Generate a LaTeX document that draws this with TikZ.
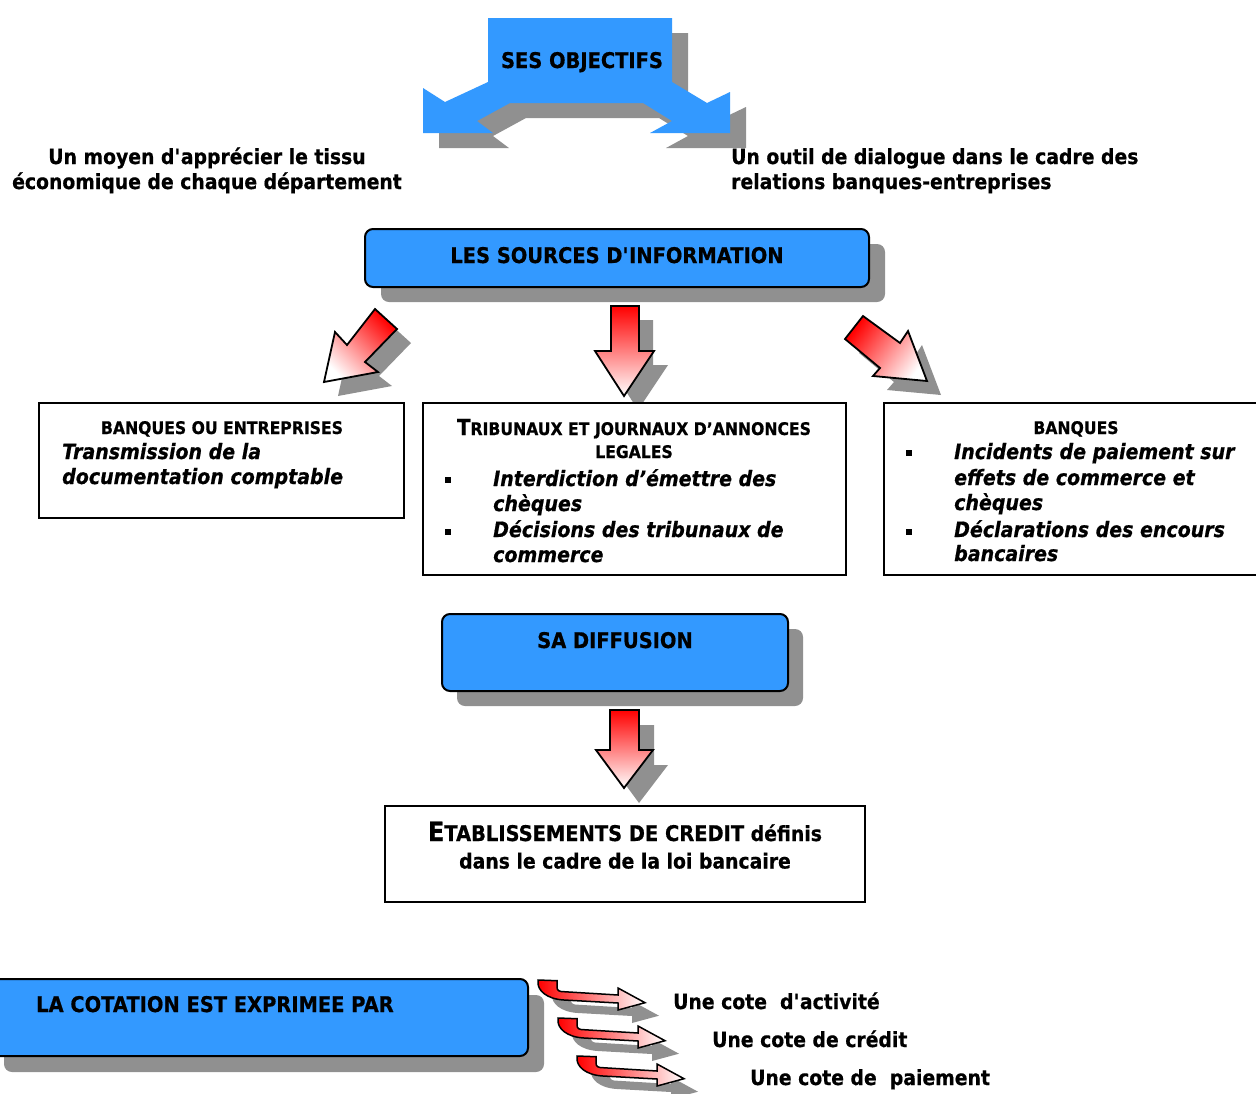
\documentclass[tikz,border=0pt]{standalone}
\usepackage{fontspec}
\setmainfont[FakeStretch=0.9, BoldFeatures={FakeBold=0.6}, BoldItalicFeatures={FakeBold=0.6}]{DejaVu Sans}
\definecolor{boxblue}{HTML}{3399FF}
\definecolor{shad}{HTML}{909090}
\newcommand\fBody{\fontsize{20.9}{25}\selectfont\bfseries}
\newcommand\fHead{\fontsize{21.6}{25}\selectfont\bfseries}
\newcommand\fSmall{\fontsize{17.4}{20}\selectfont\bfseries}
\newcommand\fBig{\fontsize{22}{25}\selectfont\bfseries}
\newcommand\fIt{\fontsize{21.1}{25}\selectfont\bfseries\itshape}
\begin{document}
\begin{tikzpicture}[x=1pt,y=-1pt,
  bd/.style={font=\fBody, inner sep=0pt},
  hd/.style={font=\fHead, inner sep=0pt},
  sm/.style={font=\fSmall, inner sep=0pt},
  it/.style={font=\fIt, inner sep=0pt},
  bluebox/.style={draw=black, line width=2pt, fill=boxblue, rounded corners=8pt, inner sep=0pt},
  shadbox/.style={fill=shad, rounded corners=8pt, inner sep=0pt},
  whitebox/.style={draw=black, line width=1.5pt, fill=white, inner sep=0pt},
  redarrow/.style={draw=black, line width=1.8pt, line join=miter},
  sq/.style={fill=black, inner sep=0pt, minimum size=6pt}]
\useasboundingbox (0,0) rectangle (1256,1093);

% ---------- SES OBJECTIFS split arrow
\begin{scope}[shift={(16,15)}]
\fill[shad] (488,18) -- (488,82) -- (445,102) -- (423,88) -- (423,133) -- (493,133) -- (477,121) -- (510,103) -- (643,103) -- (672,121) -- (650,133) -- (730,133) -- (730,92) -- (707,103) -- (672,82) -- (672,18) -- cycle;
\end{scope}
\fill[boxblue] (488,18) -- (488,82) -- (445,102) -- (423,88) -- (423,133) -- (493,133) -- (477,121) -- (510,103) -- (643,103) -- (672,121) -- (650,133) -- (730,133) -- (730,92) -- (707,103) -- (672,82) -- (672,18) -- cycle;
\node[hd, anchor=base] (obj) at (582,68) {SES OBJECTIFS};

\node[bd, anchor=base] (l1) at (207,164) {Un moyen d\textquotesingle apprécier le tissu};
\node[bd, anchor=base] (l2) at (207,189) {économique de chaque département};
\node[bd, anchor=base west] (r1) at (731,164) {Un outil de dialogue dans le cadre des};
\node[bd, anchor=base west] (r2) at (731,189) {relations banques-entreprises};

% ---------- LES SOURCES
\node[shadbox, minimum width=504pt, minimum height=58pt] (srcs) at (633,273) {};
\node[bluebox, minimum width=504pt, minimum height=58pt] (src) at (617,258) {};
\node[hd, anchor=base] (srct) at (617,263) {LES SOURCES D\textquotesingle INFORMATION};

% ---------- red arrows
\begin{scope}[shift={(14,14)}]
\fill[shad] (375,309) -- (397,329) -- (365,362) -- (378,372) -- (324,382) -- (335,332) -- (347,345) -- cycle;
\fill[shad] (611,306) -- (639,306) -- (639,351) -- (654,351) -- (624,396) -- (595,351) -- (611,351) -- cycle;
\fill[shad] (863,316) -- (845,339) -- (880,368) -- (873,376) -- (927,381) -- (908,331) -- (900,343) -- cycle;
\end{scope}
\path[redarrow, top color=red, bottom color=white, shading angle=-45] (375,309) -- (397,329) -- (365,362) -- (378,372) -- (324,382) -- (335,332) -- (347,345) -- cycle;
\path[redarrow, top color=red, bottom color=white] (611,306) -- (639,306) -- (639,351) -- (654,351) -- (624,396) -- (595,351) -- (611,351) -- cycle;
\path[redarrow, top color=red, bottom color=white, shading angle=54] (863,316) -- (845,339) -- (880,368) -- (873,376) -- (927,381) -- (908,331) -- (900,343) -- cycle;

% ---------- three source boxes
\node[whitebox, minimum width=365pt, minimum height=115pt] (ba) at (221.5,460.5) {};
\node[sm, anchor=base] (bat) at (222,434) {BANQUES OU ENTREPRISES};
\node[it, anchor=base west] (ba1) at (62,459) {Transmission de la};
\node[it, anchor=base west] (ba2) at (62,484) {documentation comptable};

\node[whitebox, minimum width=423pt, minimum height=172pt] (bb) at (634.5,489) {};
\node[sm, anchor=base] (bbt) at (634,435) {{\fBig T}RIBUNAUX ET JOURNAUX D’ANNONCES};
\node[sm, anchor=base] (bbt2) at (634,458) {LEGALES};
\node[sq] (bbs1) at (448,480) {};
\node[sq] (bbs2) at (448,532) {};
\node[it, anchor=base west] (bb1) at (493,486) {Interdiction d’émettre des};
\node[it, anchor=base west] (bb2) at (493,511) {chèques};
\node[it, anchor=base west] (bb3) at (493,537) {Décisions des tribunaux de};
\node[it, anchor=base west] (bb4) at (493,562) {commerce};

\node[whitebox, minimum width=378pt, minimum height=172pt] (bc) at (1073,489) {};
\node[sm, anchor=base] (bct) at (1076,434) {BANQUES};
\node[sq] (bcs1) at (909,453) {};
\node[sq] (bcs2) at (909,532) {};
\node[it, anchor=base west] (bc1) at (954,459) {Incidents de paiement sur};
\node[it, anchor=base west] (bc2) at (954,485) {effets de commerce et};
\node[it, anchor=base west] (bc3) at (954,510) {chèques};
\node[it, anchor=base west] (bc4) at (954,537) {Déclarations des encours};
\node[it, anchor=base west] (bc5) at (954,561) {bancaires};

% ---------- SA DIFFUSION
\node[shadbox, minimum width=346pt, minimum height=77pt] (difs) at (630,667.5) {};
\node[bluebox, minimum width=346pt, minimum height=77pt] (dif) at (615,652.5) {};
\node[hd, anchor=base] (dift) at (615,648) {SA DIFFUSION};

\begin{scope}[shift={(15,15)}]
\fill[shad] (610,710) -- (639,710) -- (639,750) -- (653,750) -- (624,788) -- (596,750) -- (610,750) -- cycle;
\end{scope}
\path[redarrow, top color=red, bottom color=white] (610,710) -- (639,710) -- (639,750) -- (653,750) -- (624,788) -- (596,750) -- (610,750) -- cycle;

% ---------- ETABLISSEMENTS
\node[whitebox, minimum width=480pt, minimum height=96pt] (etab) at (625,854) {};
\node[bd, anchor=base] (et1) at (625,841) {{\fontsize{26.5}{25}\selectfont E}{\fontsize{21.6}{25}\selectfont TABLISSEMENTS DE CREDIT} définis};
\node[bd, anchor=base] (et2) at (625,868.5) {dans le cadre de la loi bancaire};

% ---------- LA COTATION
\node[shadbox, minimum width=540pt, minimum height=77pt] (cots) at (274,1033.5) {};
\node[bluebox, minimum width=540pt, minimum height=77pt] (cot) at (258,1017.5) {};
\node[hd, anchor=base west] (cott) at (36,1012) {LA COTATION EST EXPRIMEE PAR};

\foreach \dx/\dy in {0/0, 20/38, 39/76} {
  \begin{scope}[shift={(538+14+\dx,980+13+\dy)}]
    \fill[shad] (0,0) -- (19,0.7) -- (19,7) .. controls (19,10.5) and (21,11.7) .. (26,11.7) -- (80,15) -- (80,8) -- (107,22.7) -- (80,30) -- (80,23) -- (26,20) .. controls (8,19) and (0,10) .. (0,3) -- cycle;
  \end{scope}
  \begin{scope}[shift={(538+\dx,980+\dy)}]
    \path[redarrow, line width=1.5pt, left color=red, right color=white] (0,0) -- (19,0.7) -- (19,7) .. controls (19,10.5) and (21,11.7) .. (26,11.7) -- (80,15) -- (80,8) -- (107,22.7) -- (80,30) -- (80,23) -- (26,20) .. controls (8,19) and (0,10) .. (0,3) -- cycle;
  \end{scope}
}
\node[bd, anchor=base west] (c1) at (673,1009) {Une cote\ \ d\textquotesingle activité};
\node[bd, anchor=base west] (c2) at (712,1047) {Une cote de crédit};
\node[bd, anchor=base west] (c3) at (750,1085) {Une cote de\ \ paiement};
\end{tikzpicture}
\end{document}
